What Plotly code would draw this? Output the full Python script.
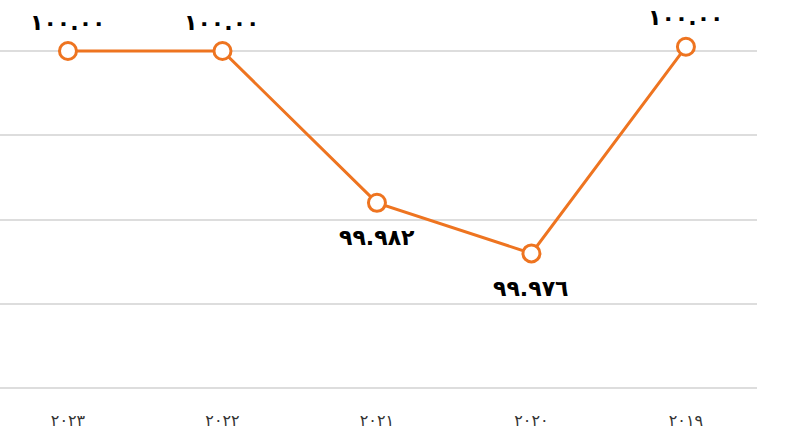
import plotly.graph_objects as go

years = ["2023", "2022", "2021", "2020", "2019"]
year_labels = ["٢٠٢٣", "٢٠٢٢", "٢٠٢١", "٢٠٢٠", "٢٠١٩"]
values = [100.0, 100.0, 99.982, 99.976, 100.0005]
value_labels = ["١٠٠.٠٠", "١٠٠.٠٠", "٩٩.٩٨٢", "٩٩.٩٧٦", "١٠٠.٠٠"]
label_above = [True, True, False, False, True]

idx = list(range(len(years)))

fig = go.Figure()
fig.add_trace(go.Scatter(
    x=idx, y=values,
    mode="lines+markers",
    line=dict(color="#EE7420", width=3),
    marker=dict(size=17, color="white", line=dict(color="#EE7420", width=3)),
    cliponaxis=False,
    hoverinfo="skip",
))

for i, v, t, up in zip(idx, values, value_labels, label_above):
    fig.add_annotation(
        x=i, y=v, text="<b>" + t + "</b>", showarrow=False,
        yshift=29 if up else -35,
        font=dict(size=22, color="black", family="DejaVu Sans"),
    )

fig.update_layout(
    width=789, height=437,
    margin=dict(l=0, r=32, t=0, b=36, pad=0, autoexpand=False),
    paper_bgcolor="white", plot_bgcolor="white",
    showlegend=False,
    xaxis=dict(
        range=[-0.44, 4.46],
        tickmode="array", tickvals=idx, ticktext=year_labels,
        showgrid=False, zeroline=False, showline=False,
        tickfont=dict(size=16, color="#333333", family="DejaVu Sans"),
        ticks="", ticklabelstandoff=8, automargin=False,
    ),
    yaxis=dict(
        range=[99.9585, 100.00605],
        tickvals=[99.96, 99.97, 99.98, 99.99, 100.0],
        showticklabels=False,
        gridcolor="#DDDDDD", gridwidth=1.5,
        zeroline=False, showline=False, automargin=False,
    ),
)

fig.write_html("out.html", config={"displayModeBar": False},
               post_script="document.body.style.margin='0';document.body.style.padding='0';")
